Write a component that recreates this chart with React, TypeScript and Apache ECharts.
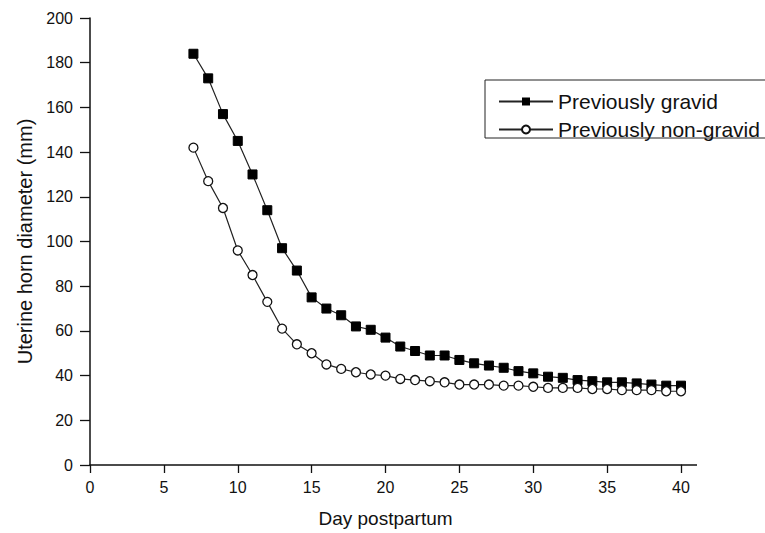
import React, { useEffect, useRef } from "react";
import * as echarts from "echarts";

const days = [7, 8, 9, 10, 11, 12, 13, 14, 15, 16, 17, 18, 19, 20, 21, 22, 23, 24, 25, 26, 27, 28, 29, 30, 31, 32, 33, 34, 35, 36, 37, 38, 39, 40];
const gravid = [184, 173, 157, 145, 130, 114, 97, 87, 75, 70, 67, 62, 60.5, 57, 53, 51, 49, 49, 47, 45.5, 44.5, 43.5, 42, 41, 39.5, 39, 38, 37.5, 37, 37, 36.5, 36, 35.5, 35.5];
const nonGravid = [142, 127, 115, 96, 85, 73, 61, 54, 50, 45, 43, 41.5, 40.5, 40, 38.5, 38, 37.5, 37, 36, 36, 36, 35.5, 35.5, 35, 34.5, 34.5, 34.5, 34, 34, 33.5, 33.5, 33.5, 33, 33];
const xTicks = { min: 0, max: 40, interval: 5 };
const yTicks = { min: 0, max: 200, interval: 20 };

const FONT = "'Liberation Sans', Arial, Helvetica, sans-serif";

export default function App() {
  const ref = useRef<HTMLDivElement>(null);
  useEffect(() => {
    document.body.style.margin = "0";
    if (!ref.current) return;
    const chart = echarts.init(ref.current, undefined, { renderer: "svg" });
    chart.setOption({
      animation: false,
      backgroundColor: "#ffffff",
      textStyle: { fontFamily: FONT, color: "#111" },
      grid: { left: 90, right: 84, top: 18, bottom: 68, containLabel: false },
      legend: {
        orient: "vertical",
        left: 493,
        top: 86,
        itemWidth: 54,
        itemHeight: 10,
        itemGap: 7,
        itemTextGap: 6,
        textStyle: { fontSize: 21, color: "#111", fontFamily: FONT },
        data: ["Previously gravid", "Previously non-gravid"],
      },
      graphic: [
        {
          type: "rect",
          shape: { x: 485, y: 80, width: 300, height: 58 },
          style: { fill: "none", stroke: "#222", lineWidth: 1 },
          z: 0,
        },
        {
          type: "line",
          shape: { x1: 681, y1: 465, x2: 697, y2: 465 },
          style: { stroke: "#111", lineWidth: 1.5 },
        },
      ],
      xAxis: {
        type: "value",
        min: xTicks.min,
        max: xTicks.max,
        interval: xTicks.interval,
        name: "Day postpartum",
        nameLocation: "middle",
        nameGap: 44,
        nameTextStyle: { fontSize: 19, color: "#111", fontFamily: FONT },
        axisLine: { lineStyle: { color: "#111", width: 1.5 } },
        axisTick: { show: true, length: 8, inside: false, lineStyle: { color: "#111", width: 1.3 } },
        axisLabel: { fontSize: 16, color: "#111", margin: 14, fontFamily: FONT },
        splitLine: { show: false },
      },
      yAxis: {
        type: "value",
        min: yTicks.min,
        max: yTicks.max,
        interval: yTicks.interval,
        name: "Uterine horn diameter (mm)",
        nameLocation: "middle",
        nameGap: 55,
        nameRotate: 90,
        nameTextStyle: { fontSize: 20, color: "#111", fontFamily: FONT },
        axisLine: { show: true, lineStyle: { color: "#111", width: 1.5 } },
        axisTick: { show: true, length: 10, inside: false, lineStyle: { color: "#111", width: 1.3 } },
        axisLabel: { fontSize: 16, color: "#111", margin: 17, fontFamily: FONT },
        splitLine: { show: false },
      },
      series: [
        {
          name: "Previously gravid",
          type: "line",
          data: days.map((d, i) => [d, gravid[i]]),
          symbol: "rect",
          symbolSize: 9,
          itemStyle: { color: "#000", borderColor: "#000" },
          lineStyle: { color: "#222", width: 1.2 },
          z: 3,
        },
        {
          name: "Previously non-gravid",
          type: "line",
          data: days.map((d, i) => [d, nonGravid[i]]),
          symbol: "circle",
          symbolSize: 9,
          itemStyle: { color: "#fff", borderColor: "#111", borderWidth: 1.3 },
          lineStyle: { color: "#222", width: 1.2 },
          z: 4,
        },
      ],
    });
    return () => chart.dispose();
  }, []);
  return <div ref={ref} style={{ width: 765, height: 533 }} />;
}
